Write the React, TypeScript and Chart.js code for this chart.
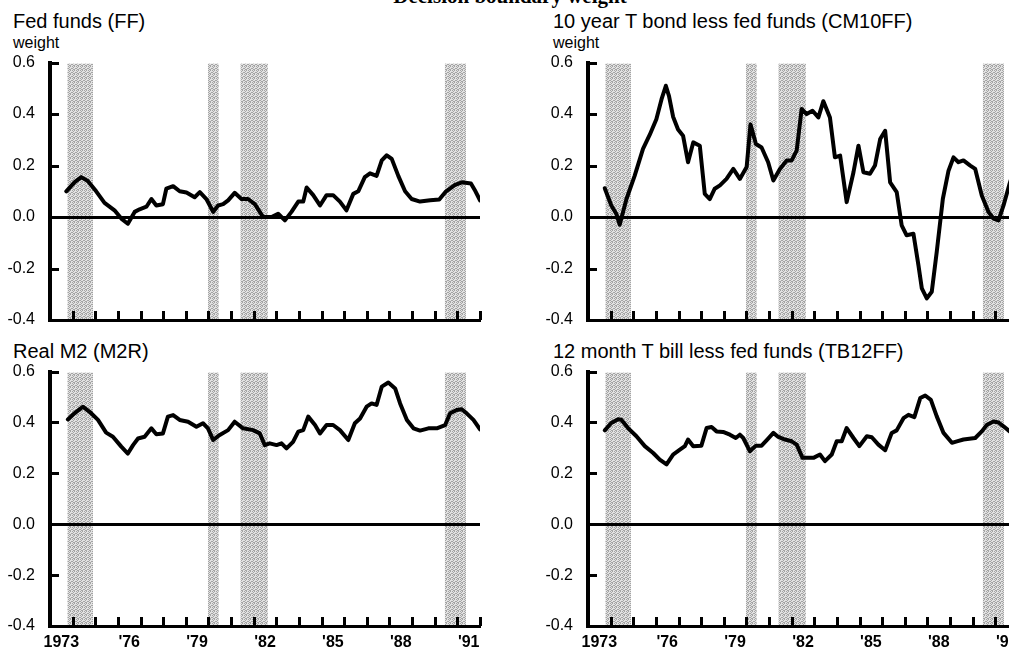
import React, { useEffect, useRef } from "react";
import { Chart, registerables } from "chart.js";

Chart.register(...registerables);

// ---------- shared axis data ----------
const X_MIN = 1973;
const X_MAX = 1992;
const X_LABEL_POSITIONS = [1973.5, 1976.5, 1979.5, 1982.5, 1985.5, 1988.5, 1991.5];
const X_LABELS = ["1973", "'76", "'79", "'82", "'85", "'88", "'91"];
const YEAR_TICKS = [1974, 1975, 1976, 1977, 1978, 1979, 1980, 1981, 1982, 1983, 1984, 1985, 1986, 1987, 1988, 1989, 1990, 1991, 1992];
const Y_MIN = -0.4;
const Y_MAX = 0.6;
const Y_TICKS = [-0.4, -0.2, 0.0, 0.2, 0.4, 0.6];

// recession bands (shaded)
const RECESSION_START = [1973.77, 1979.98, 1981.42, 1990.45];
const RECESSION_END = [1974.9, 1980.45, 1982.63, 1991.38];

// ---------- series ----------
const FF_YEARS = [1973.72, 1974.08, 1974.38, 1974.67, 1975.04, 1975.41, 1975.85, 1976.15, 1976.44, 1976.74, 1976.96, 1977.26, 1977.48, 1977.70, 1977.99, 1978.14, 1978.44, 1978.73, 1979.03, 1979.39, 1979.62, 1979.91, 1980.21, 1980.43, 1980.65, 1980.87, 1981.16, 1981.46, 1981.75, 1982.05, 1982.42, 1982.79, 1983.08, 1983.38, 1983.67, 1983.97, 1984.19, 1984.34, 1984.63, 1984.93, 1985.22, 1985.51, 1985.81, 1986.10, 1986.40, 1986.62, 1986.91, 1987.14, 1987.43, 1987.66, 1987.88, 1988.10, 1988.39, 1988.69, 1988.98, 1989.35, 1989.80, 1990.20, 1990.50, 1990.90, 1991.20, 1991.60, 1991.80, 1992.00];
const FF_VALUES = [0.10, 0.135, 0.155, 0.14, 0.10, 0.055, 0.026, -0.006, -0.026, 0.02, 0.03, 0.04, 0.07, 0.045, 0.05, 0.11, 0.12, 0.10, 0.095, 0.077, 0.097, 0.07, 0.02, 0.045, 0.05, 0.065, 0.094, 0.07, 0.07, 0.05, 0.0, 0.0, 0.013, -0.013, 0.02, 0.06, 0.06, 0.115, 0.085, 0.045, 0.085, 0.085, 0.06, 0.026, 0.09, 0.10, 0.155, 0.17, 0.16, 0.22, 0.24, 0.226, 0.16, 0.10, 0.07, 0.06, 0.065, 0.068, 0.10, 0.125, 0.135, 0.13, 0.10, 0.065];

const CM10FF_YEARS = [1973.74, 1974.03, 1974.25, 1974.40, 1974.70, 1975.06, 1975.43, 1975.73, 1976.02, 1976.25, 1976.44, 1976.58, 1976.76, 1976.98, 1977.20, 1977.42, 1977.65, 1977.94, 1978.16, 1978.38, 1978.60, 1978.83, 1979.12, 1979.42, 1979.71, 1980.01, 1980.18, 1980.42, 1980.67, 1980.96, 1981.19, 1981.48, 1981.78, 1982.00, 1982.22, 1982.44, 1982.66, 1982.92, 1983.18, 1983.40, 1983.69, 1983.91, 1984.14, 1984.43, 1984.73, 1984.95, 1985.17, 1985.46, 1985.68, 1985.91, 1986.13, 1986.35, 1986.64, 1986.86, 1987.08, 1987.38, 1987.60, 1987.75, 1987.97, 1988.19, 1988.41, 1988.68, 1988.93, 1989.15, 1989.37, 1989.59, 1989.89, 1990.11, 1990.40, 1990.70, 1990.92, 1991.14, 1991.36, 1991.63, 1991.85];
const CM10FF_VALUES = [0.112, 0.045, 0.013, -0.03, 0.07, 0.16, 0.265, 0.32, 0.38, 0.458, 0.51, 0.47, 0.39, 0.34, 0.316, 0.213, 0.29, 0.277, 0.09, 0.07, 0.11, 0.123, 0.148, 0.187, 0.148, 0.194, 0.36, 0.284, 0.27, 0.213, 0.142, 0.187, 0.22, 0.22, 0.258, 0.42, 0.40, 0.413, 0.387, 0.45, 0.387, 0.232, 0.239, 0.058, 0.174, 0.277, 0.174, 0.168, 0.20, 0.303, 0.335, 0.135, 0.097, -0.032, -0.071, -0.065, -0.187, -0.277, -0.316, -0.29, -0.135, 0.071, 0.18, 0.232, 0.213, 0.22, 0.20, 0.187, 0.084, 0.019, -0.006, -0.013, 0.045, 0.13, 0.19];

const M2R_YEARS = [1973.79, 1974.08, 1974.45, 1974.75, 1975.12, 1975.48, 1975.78, 1976.15, 1976.44, 1976.67, 1976.89, 1977.18, 1977.48, 1977.70, 1977.99, 1978.21, 1978.44, 1978.73, 1979.10, 1979.47, 1979.76, 1979.98, 1980.21, 1980.50, 1980.87, 1981.16, 1981.53, 1981.97, 1982.27, 1982.49, 1982.71, 1983.01, 1983.23, 1983.45, 1983.74, 1983.97, 1984.19, 1984.41, 1984.71, 1984.93, 1985.22, 1985.51, 1985.81, 1986.18, 1986.47, 1986.70, 1986.99, 1987.21, 1987.43, 1987.66, 1987.95, 1988.25, 1988.47, 1988.77, 1989.06, 1989.35, 1989.72, 1990.09, 1990.46, 1990.68, 1990.97, 1991.19, 1991.41, 1991.71, 1992.00];
const M2R_VALUES = [0.412, 0.436, 0.462, 0.442, 0.41, 0.36, 0.344, 0.305, 0.278, 0.311, 0.337, 0.344, 0.377, 0.354, 0.357, 0.423, 0.429, 0.41, 0.403, 0.383, 0.397, 0.377, 0.331, 0.351, 0.37, 0.403, 0.377, 0.37, 0.357, 0.311, 0.318, 0.311, 0.318, 0.298, 0.324, 0.364, 0.37, 0.423, 0.39, 0.357, 0.39, 0.39, 0.37, 0.331, 0.397, 0.416, 0.462, 0.475, 0.469, 0.541, 0.557, 0.534, 0.475, 0.41, 0.377, 0.368, 0.377, 0.377, 0.39, 0.436, 0.449, 0.452, 0.436, 0.41, 0.373];

const TB12FF_YEARS = [1973.74, 1974.03, 1974.33, 1974.47, 1974.77, 1975.14, 1975.51, 1975.88, 1976.17, 1976.47, 1976.76, 1977.06, 1977.28, 1977.42, 1977.65, 1978.01, 1978.24, 1978.46, 1978.68, 1978.97, 1979.27, 1979.53, 1979.71, 1979.86, 1980.15, 1980.42, 1980.67, 1980.92, 1981.19, 1981.41, 1981.70, 1982.00, 1982.22, 1982.48, 1982.73, 1982.96, 1983.25, 1983.47, 1983.77, 1983.99, 1984.21, 1984.43, 1984.73, 1984.99, 1985.32, 1985.54, 1985.83, 1986.13, 1986.42, 1986.64, 1986.94, 1987.16, 1987.42, 1987.68, 1987.90, 1988.15, 1988.41, 1988.71, 1989.08, 1989.30, 1989.59, 1990.11, 1990.40, 1990.63, 1990.92, 1991.14, 1991.36, 1991.63, 1991.85];
const TB12FF_VALUES = [0.369, 0.398, 0.413, 0.411, 0.378, 0.346, 0.307, 0.28, 0.254, 0.235, 0.274, 0.293, 0.307, 0.333, 0.307, 0.309, 0.378, 0.382, 0.365, 0.363, 0.352, 0.339, 0.352, 0.339, 0.287, 0.309, 0.309, 0.333, 0.359, 0.343, 0.333, 0.326, 0.313, 0.261, 0.261, 0.261, 0.274, 0.248, 0.274, 0.326, 0.326, 0.378, 0.339, 0.307, 0.346, 0.342, 0.313, 0.291, 0.359, 0.369, 0.417, 0.43, 0.421, 0.496, 0.506, 0.489, 0.424, 0.359, 0.32, 0.326, 0.333, 0.339, 0.365, 0.391, 0.404, 0.40, 0.385, 0.365, 0.35];

const SANS = "'Liberation Sans', Arial, Helvetica, sans-serif";

function makePattern(ctx: CanvasRenderingContext2D): CanvasPattern | string {
  const pc = document.createElement("canvas");
  pc.width = 4;
  pc.height = 4;
  const g = pc.getContext("2d");
  if (!g) return "#cccccc";
  g.fillStyle = "#e2e2e2";
  g.fillRect(0, 0, 4, 4);
  g.fillStyle = "#a4a4a4";
  const dots = [[0, 0], [2, 0], [1, 1], [3, 2], [0, 2], [2, 3], [1, 3]];
  for (const [dx, dy] of dots) g.fillRect(dx, dy, 1, 1);
  const p = ctx.createPattern(pc, "repeat");
  return p || "#cccccc";
}

const recessionPlugin = {
  id: "recessions",
  beforeDraw(chart: any) {
    const { ctx, scales } = chart;
    const xs = scales.x;
    const ys = scales.y;
    const top = ys.getPixelForValue(Y_MAX);
    const bottom = ys.getPixelForValue(Y_MIN);
    ctx.save();
    ctx.fillStyle = makePattern(ctx);
    for (let i = 0; i < RECESSION_START.length; i++) {
      const x1 = xs.getPixelForValue(RECESSION_START[i]);
      const x2 = xs.getPixelForValue(RECESSION_END[i]);
      ctx.fillRect(x1, top + 1, x2 - x1, bottom - top - 1);
    }
    ctx.restore();
  },
};

// axis lines and inward tick marks, drawn from the scales
const axesPlugin = {
  id: "axesAndTicks",
  afterDraw(chart: any) {
    const { ctx, scales } = chart;
    const xs = scales.x;
    const ys = scales.y;
    const L = xs.getPixelForValue(X_MIN);
    const R = xs.getPixelForValue(X_MAX);
    const T = ys.getPixelForValue(Y_MAX);
    const B = ys.getPixelForValue(Y_MIN);
    ctx.save();
    ctx.globalAlpha = 1;
    ctx.globalCompositeOperation = "source-over";
    ctx.fillStyle = "rgb(0,0,0)";
    // vertical axis
    ctx.fillRect(Math.round(L) - 2, Math.round(T) - 2, 3, Math.round(B - T) + 4);
    // horizontal axis
    ctx.fillRect(Math.round(L) - 2, Math.round(B) - 1, Math.round(R - L) + 3, 3);
    for (const yr of YEAR_TICKS) {
      const x = Math.round(xs.getPixelForValue(yr));
      ctx.fillRect(x - 1, Math.round(B) - 9, 3, 9);
    }
    for (const v of Y_TICKS) {
      const y = Math.round(ys.getPixelForValue(v));
      ctx.fillRect(Math.round(L), y - 1, 9, 3);
    }
    ctx.restore();
  },
};

type PanelProps = {
  years: number[];
  values: number[];
  left: number;
  plotTop: number;
  plotHeight: number;
  showXLabels: boolean;
};

const CANVAS_W = 490;
const X_AXIS_H = 30;
const Y_AXIS_W = 50;
const TOP_OFFSET = 24.6; // chart area top inside the canvas (label half height + padding)

function Panel({ years, values, left, plotTop, plotHeight, showXLabels }: PanelProps) {
  const ref = useRef<HTMLCanvasElement | null>(null);
  const canvasTop = plotTop - TOP_OFFSET;
  const canvasH = Math.round(TOP_OFFSET + plotHeight + X_AXIS_H);
  useEffect(() => {
    if (!ref.current) return;
    const points = years.map((x, i) => ({ x, y: values[i] }));
    const chart = new Chart(ref.current, {
      type: "line",
      data: {
        datasets: [
          {
            data: points,
            borderColor: "#000",
            borderWidth: 4,
            pointRadius: 0,
            tension: 0,
            fill: false,
            borderJoinStyle: "round",
            borderCapStyle: "round",
          } as any,
        ],
      },
      options: {
        responsive: false,
        animation: false,
        devicePixelRatio: 1,
        layout: { autoPadding: false, padding: { top: 8, right: 10, left: 0, bottom: 0 } },
        plugins: { legend: { display: false }, tooltip: { enabled: false }, title: { display: false } },
        scales: {
          x: {
            type: "linear",
            min: X_MIN,
            max: X_MAX,
            afterBuildTicks: (s: any) => {
              s.ticks = X_LABEL_POSITIONS.map((v) => ({ value: v }));
            },
            afterFit: (s: any) => {
              s.height = X_AXIS_H;
            },
            ticks: {
              display: showXLabels,
              autoSkip: false,
              maxRotation: 0,
              padding: 7,
              color: "#000",
              font: { family: SANS, size: 16, weight: "bold" },
              callback: (v: any) => {
                const idx = X_LABEL_POSITIONS.indexOf(Number(v));
                return idx >= 0 ? X_LABELS[idx] : "";
              },
            },
            grid: { display: false, drawTicks: false },
            border: { display: false },
          },
          y: {
            min: Y_MIN,
            max: Y_MAX,
            afterBuildTicks: (s: any) => {
              s.ticks = Y_TICKS.map((v) => ({ value: v }));
            },
            afterFit: (s: any) => {
              s.width = Y_AXIS_W;
            },
            ticks: {
              padding: 15,
              color: "#000",
              font: { family: SANS, size: 16 },
              callback: (v: any) => Number(v).toFixed(1),
            },
            grid: {
              drawTicks: false,
              lineWidth: 3,
              color: (c: any) => (c.tick && Math.abs(c.tick.value) < 1e-9 ? "#000" : "rgba(0,0,0,0)"),
            },
            border: { display: true, color: "#000", width: 3 },
          },
        },
      } as any,
      plugins: [recessionPlugin, axesPlugin],
    });
    return () => chart.destroy();
  }, [years, values, showXLabels]);
  return (
    <canvas
      ref={ref}
      width={CANVAS_W}
      height={canvasH}
      style={{ position: "absolute", left, top: canvasTop, width: CANVAS_W, height: canvasH }}
    />
  );
}

const titleStyle = (left: number, top: number): React.CSSProperties => ({
  position: "absolute",
  left,
  top,
  fontFamily: SANS,
  fontSize: 20,
  lineHeight: "20px",
  color: "#000",
  whiteSpace: "nowrap",
});

const weightStyle = (left: number, top: number): React.CSSProperties => ({
  position: "absolute",
  left,
  top,
  fontFamily: SANS,
  fontSize: 16,
  lineHeight: "16px",
  color: "#000",
  whiteSpace: "nowrap",
});

export default function App() {
  return (
    <div
      style={{
        position: "fixed",
        left: 0,
        top: 0,
        width: 1009,
        height: 650,
        overflow: "hidden",
        background: "#fff",
      }}
    >
      <div
        style={{
          position: "absolute",
          left: 0,
          width: 1020,
          top: -14,
          textAlign: "center",
          fontFamily: "'Liberation Serif', 'Times New Roman', serif",
          fontWeight: "bold",
          fontSize: 21,
          lineHeight: "21px",
          whiteSpace: "nowrap",
        }}
      >
        Decision boundary weight
      </div>

      <div style={titleStyle(13, 11)}>Fed funds (FF)</div>
      <div style={weightStyle(13, 35)}>weight</div>
      <div style={titleStyle(553, 11)}>10 year T bond less fed funds (CM10FF)</div>
      <div style={weightStyle(553, 35)}>weight</div>
      <div style={titleStyle(13, 341)}>Real M2 (M2R)</div>
      <div style={titleStyle(553, 341)}>12 month T bill less fed funds (TB12FF)</div>

      <Panel years={FF_YEARS} values={FF_VALUES} left={0} plotTop={63} plotHeight={257} showXLabels={false} />
      <Panel years={CM10FF_YEARS} values={CM10FF_VALUES} left={538} plotTop={63} plotHeight={257} showXLabels={false} />
      <Panel years={M2R_YEARS} values={M2R_VALUES} left={0} plotTop={372} plotHeight={254} showXLabels={true} />
      <Panel years={TB12FF_YEARS} values={TB12FF_VALUES} left={538} plotTop={372} plotHeight={254} showXLabels={true} />
    </div>
  );
}
